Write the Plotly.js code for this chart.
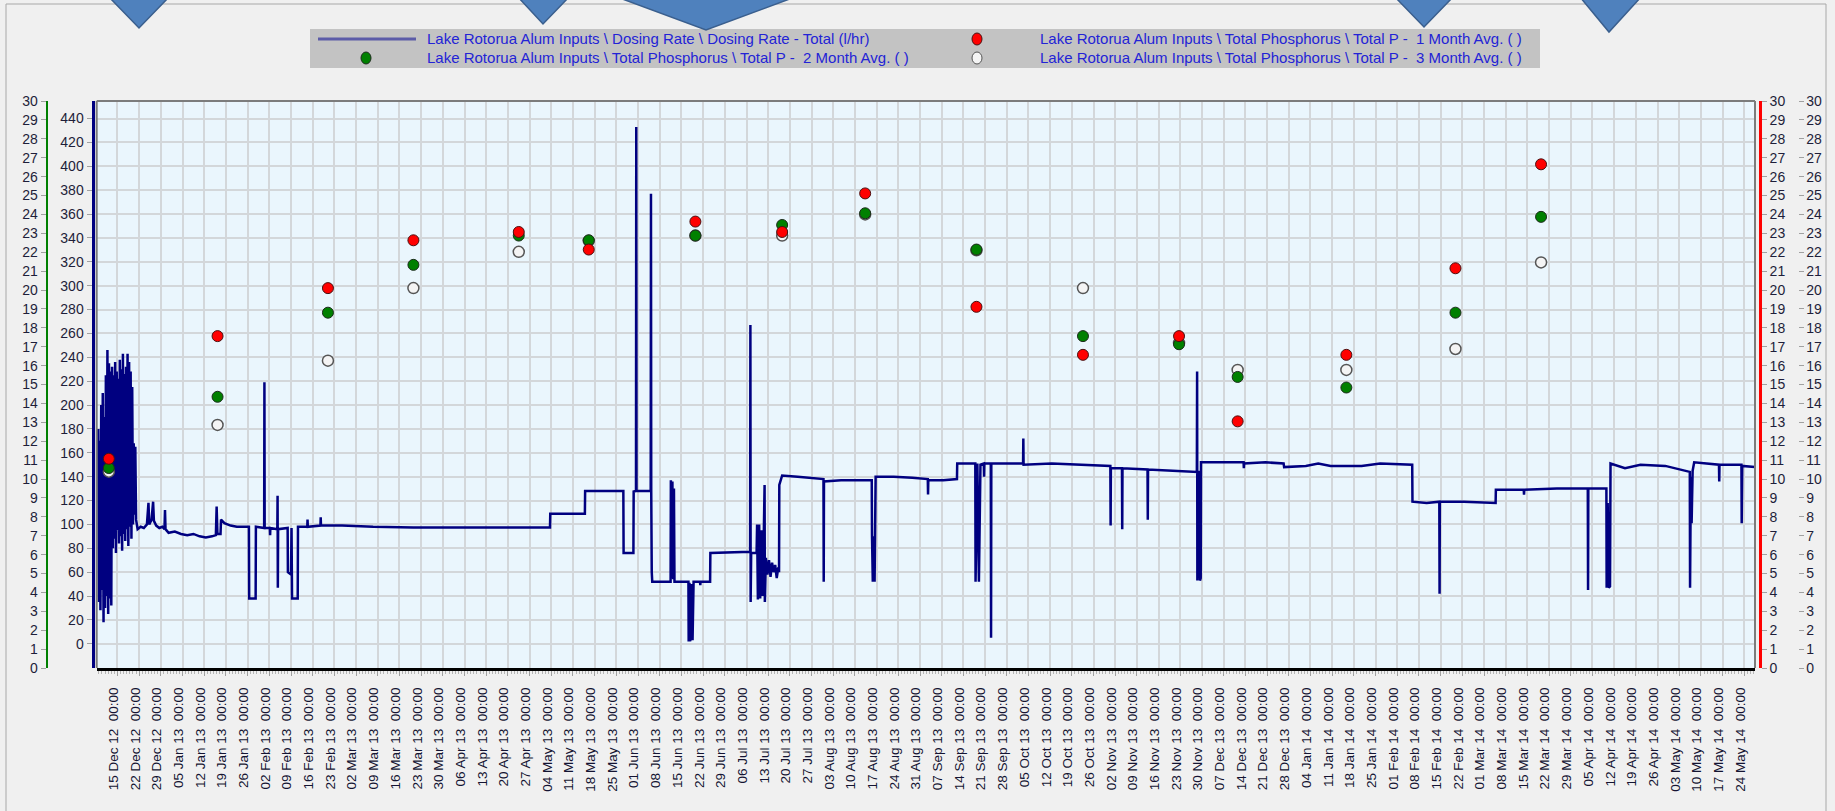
<!DOCTYPE html>
<html>
<head>
<meta charset="utf-8">
<script src="https://cdn.plot.ly/plotly-3.0.1.min.js"></script>
<style>html,body{margin:0;padding:0;background:#F0F0F0;}#chart{width:1835px;height:811px;}</style>
</head>
<body>
<div id="chart"></div>
<script>
// ---------------- DATA ----------------
// Dosing Rate - Total (l/hr) : [time, value]
const ratePoints = [
['2012-12-08 19:00',180],['2012-12-09 00:00',35],['2012-12-09 06:00',170],['2012-12-09 12:00',28],
['2012-12-09 18:00',200],['2012-12-10 00:00',45],['2012-12-10 06:00',210],['2012-12-10 12:00',18],
['2012-12-10 18:00',190],['2012-12-11 00:00',30],['2012-12-11 06:00',225],['2012-12-11 12:00',40],
['2012-12-11 18:00',246],['2012-12-12 00:00',25],['2012-12-12 06:00',235],['2012-12-12 12:00',38],
['2012-12-12 18:00',228],['2012-12-13 00:00',32],['2012-12-13 06:00',232],['2012-12-13 12:00',80],
['2012-12-13 18:00',225],['2012-12-14 00:00',88],['2012-12-14 06:00',236],['2012-12-14 12:00',76],
['2012-12-14 18:00',228],['2012-12-15 00:00',95],['2012-12-15 06:00',222],['2012-12-15 12:00',84],
['2012-12-15 18:00',238],['2012-12-16 00:00',90],['2012-12-16 06:00',230],['2012-12-16 12:00',78],
['2012-12-16 18:00',243],['2012-12-17 00:00',92],['2012-12-17 06:00',226],['2012-12-17 12:00',86],
['2012-12-17 18:00',232],['2012-12-18 00:00',96],['2012-12-18 06:00',243],['2012-12-18 12:00',82],
['2012-12-18 18:00',236],['2012-12-19 00:00',98],['2012-12-19 06:00',228],['2012-12-19 12:00',88],
['2012-12-19 18:00',215],['2012-12-20 00:00',100],['2012-12-20 06:00',168],['2012-12-20 12:00',108],
['2012-12-20 18:00',165],['2012-12-21 00:00',104],['2012-12-21 12:00',96],['2012-12-22 12:00',98],
['2012-12-23 12:00',97],['2012-12-24 12:00',100],['2012-12-25 00:00',118],['2012-12-25 06:00',100],
['2012-12-26 00:00',104],['2012-12-26 12:00',119],['2012-12-26 18:00',103],['2012-12-27 12:00',99],
['2012-12-28 12:00',97],['2012-12-29 12:00',98],['2012-12-30 04:00',96],['2012-12-30 08:00',112],
['2012-12-30 12:00',96],['2012-12-31 12:00',93],['2013-01-02 12:00',94],['2013-01-04 12:00',92],
['2013-01-06 12:00',91],['2013-01-08 12:00',92],['2013-01-10 12:00',90],['2013-01-12 12:00',89],
['2013-01-14 12:00',90],['2013-01-15 18:00',91],['2013-01-16 00:00',115],['2013-01-16 06:00',92],
['2013-01-17 06:00',92],['2013-01-17 10:00',104],['2013-01-18 12:00',101],['2013-01-20 12:00',99],
['2013-01-22 12:00',98],['2013-01-24 12:00',98],['2013-01-26 10:00',98],['2013-01-26 12:00',38],
['2013-01-28 14:00',38],['2013-01-28 16:00',98],['2013-01-30 12:00',97],['2013-01-31 08:00',97],
['2013-01-31 10:00',219],['2013-01-31 12:00',97],['2013-02-02 04:00',97],['2013-02-02 06:00',91],
['2013-02-02 08:00',97],['2013-02-04 14:00',96],['2013-02-04 16:00',124],['2013-02-04 18:00',47],
['2013-02-04 20:00',96],['2013-02-07 22:00',97],['2013-02-08 00:00',60],['2013-02-09 00:00',58],
['2013-02-09 04:00',97],['2013-02-09 08:00',38],['2013-02-11 04:00',38],['2013-02-11 06:00',98],
['2013-02-14 06:00',98],['2013-02-14 08:00',104],['2013-02-14 10:00',98],['2013-02-18 12:00',99],
['2013-02-18 14:00',106],['2013-02-18 16:00',99],['2013-02-25 12:00',99],['2013-03-07 12:00',98],
['2013-03-20 12:00',97.5],['2013-04-05 12:00',97.5],['2013-04-22 12:00',97],['2013-05-03 14:00',97.5],
['2013-05-03 16:00',109],['2013-05-14 20:00',109],['2013-05-14 22:00',128],['2013-05-27 06:00',128],
['2013-05-27 08:00',76],['2013-05-30 12:00',76],['2013-05-30 14:00',127.5],['2013-05-31 08:00',128],
['2013-05-31 10:00',433],['2013-05-31 12:00',128],['2013-06-05 02:00',128],['2013-06-05 04:00',377],
['2013-06-05 06:00',128],['2013-06-05 10:00',60],['2013-06-05 14:00',52],['2013-06-11 12:00',52],
['2013-06-11 14:00',137],['2013-06-11 20:00',55],['2013-06-12 02:00',136],['2013-06-12 08:00',54],
['2013-06-12 14:00',130],['2013-06-12 18:00',52],['2013-06-17 06:00',52],['2013-06-17 08:00',2],
['2013-06-17 14:00',51],['2013-06-17 20:00',2],['2013-06-18 06:00',50],['2013-06-18 14:00',3],
['2013-06-18 22:00',52],['2013-06-21 00:00',52],['2013-06-21 02:00',49],['2013-06-21 04:00',52],
['2013-06-24 06:00',52],['2013-06-24 08:00',76],['2013-07-07 04:00',77],['2013-07-07 06:00',267],
['2013-07-07 08:00',35],['2013-07-07 12:00',76],['2013-07-09 06:00',76],['2013-07-09 10:00',100],
['2013-07-09 16:00',37],['2013-07-10 02:00',100],['2013-07-10 10:00',38],['2013-07-10 20:00',95],
['2013-07-11 06:00',40],['2013-07-11 20:00',133],['2013-07-11 22:00',35],['2013-07-12 06:00',72],
['2013-07-12 18:00',58],['2013-07-13 06:00',70],['2013-07-13 18:00',56],['2013-07-14 06:00',68],
['2013-07-14 18:00',60],['2013-07-15 06:00',66],['2013-07-15 18:00',55],['2013-07-16 06:00',64],
['2013-07-16 12:00',60],['2013-07-16 14:00',133],['2013-07-17 12:00',141],['2013-07-22 12:00',140],
['2013-07-26 12:00',139],['2013-07-30 20:00',138],['2013-07-30 22:00',52],['2013-07-31 00:00',136],
['2013-08-05 12:00',137],['2013-08-10 12:00',137],['2013-08-15 10:00',137],['2013-08-15 12:00',90],
['2013-08-15 18:00',52],['2013-08-16 00:00',90],['2013-08-16 08:00',52],['2013-08-16 16:00',140],
['2013-08-22 12:00',140],['2013-08-28 12:00',139],['2013-09-02 12:00',138],['2013-09-02 14:00',125],
['2013-09-02 16:00',137],['2013-09-07 12:00',137],['2013-09-11 22:00',138],['2013-09-12 00:00',151],
['2013-09-17 20:00',151],['2013-09-17 22:00',52],['2013-09-18 12:00',151],['2013-09-19 00:00',52],
['2013-09-19 12:00',150],['2013-09-20 14:00',151],['2013-09-20 16:00',140],['2013-09-20 18:00',151],
['2013-09-22 20:00',151],['2013-09-22 22:00',5],['2013-09-23 00:00',151],['2013-10-03 06:00',151],
['2013-10-03 08:00',172],['2013-10-03 10:00',150],['2013-10-12 12:00',151],['2013-10-22 12:00',150],
['2013-10-31 10:00',149],['2013-10-31 12:00',99],['2013-10-31 14:00',147],['2013-11-04 04:00',147],
['2013-11-04 06:00',96],['2013-11-04 08:00',147],['2013-11-12 10:00',146],['2013-11-12 12:00',104],
['2013-11-12 14:00',146],['2013-11-20 12:00',145],['2013-11-28 08:00',144],['2013-11-28 10:00',228],
['2013-11-28 12:00',53],['2013-11-28 22:00',145],['2013-11-29 08:00',53],['2013-11-29 14:00',55],
['2013-11-29 16:00',152],['2013-12-06 12:00',152],['2013-12-13 10:00',152],['2013-12-13 12:00',147],
['2013-12-13 14:00',151],['2013-12-20 12:00',152],['2013-12-26 08:00',151],['2013-12-26 12:00',148],
['2014-01-02 12:00',149],['2014-01-06 12:00',151],['2014-01-10 12:00',149],['2014-01-20 12:00',149],
['2014-01-26 12:00',151],['2014-02-05 20:00',150],['2014-02-05 22:00',119],['2014-02-10 12:00',118],
['2014-02-14 14:00',119],['2014-02-14 16:00',42],['2014-02-14 18:00',119],['2014-02-22 12:00',119],
['2014-03-04 18:00',118],['2014-03-04 20:00',129],['2014-03-13 20:00',129],['2014-03-13 22:00',125],
['2014-03-14 00:00',129],['2014-03-24 12:00',130],['2014-04-03 12:00',130],['2014-04-03 14:00',45],
['2014-04-03 16:00',130],['2014-04-09 12:00',130],['2014-04-09 14:00',47],['2014-04-09 22:00',118],
['2014-04-10 06:00',47],['2014-04-10 16:00',48],['2014-04-10 20:00',151],['2014-04-15 12:00',147],
['2014-04-20 12:00',150],['2014-04-28 12:00',149],['2014-05-03 12:00',146],['2014-05-06 10:00',144],
['2014-05-06 12:00',47],['2014-05-06 18:00',140],['2014-05-07 00:00',101],['2014-05-07 08:00',145],
['2014-05-07 20:00',152],['2014-05-11 12:00',151],['2014-05-15 20:00',150],['2014-05-15 22:00',136],
['2014-05-16 00:00',150],['2014-05-20 12:00',150],['2014-05-23 02:00',150],['2014-05-23 04:00',101],
['2014-05-23 08:00',149],['2014-05-27 10:00',148]
];

// Total P monthly averages
const pDates = ['2012-12-12 05:00','2013-01-16 07:00','2013-02-20 22:00','2013-03-20 12:00',
  '2013-04-23 12:00','2013-05-16 02:00','2013-06-19 12:00','2013-07-17 12:00','2013-08-13 07:00',
  '2013-09-18 05:00','2013-10-22 14:00','2013-11-22 14:00','2013-12-11 12:00','2014-01-15 14:00',
  '2014-02-19 19:00','2014-03-19 10:00'];
const p1Month = [11.07,17.56,20.10,22.63,23.07,22.14,23.62,23.07,25.11,19.11,16.57,17.56,13.05,16.57,21.15,26.65];
const p2Month = [10.58,14.35,18.80,21.33,22.88,22.63,22.88,23.44,24.06,22.14,17.56,17.13,15.40,14.84,18.80,23.87];
const p3Month = [10.39,12.86,16.26,20.10,22.02,22.60,22.88,22.88,24.00,22.10,20.10,17.20,15.77,15.77,16.88,21.46];

const rateTicks = [0,20,40,60,80,100,120,140,160,180,200,220,240,260,280,300,320,340,360,380,400,420,440];
const pTicks = [0,1,2,3,4,5,6,7,8,9,10,11,12,13,14,15,16,17,18,19,20,21,22,23,24,25,26,27,28,29,30];

const seriesNames = [
  'Lake Rotorua Alum Inputs \\ Dosing Rate \\ Dosing Rate - Total (l/hr)',
  'Lake Rotorua Alum Inputs \\ Total Phosphorus \\ Total P -\u00a0 1 Month Avg. ( )',
  'Lake Rotorua Alum Inputs \\ Total Phosphorus \\ Total P -\u00a0 2 Month Avg. ( )',
  'Lake Rotorua Alum Inputs \\ Total Phosphorus \\ Total P -\u00a0 3 Month Avg. ( )'
];

// ---------------- LAYOUT HELPERS ----------------
const ML = 10, MR = 10, MT = 101, MB = 143, W = 1835, H = 811;
const PW = W - ML - MR, PH = H - MT - MB;
const PX = px => (px - ML) / PW;
const PY = py => (H - MB - py) / PH;

const tickFont = {family: 'Liberation Sans, Arial, sans-serif', size: 14, color: '#1e1e3a'};

// The three Total P series share the identical 0-30 scale; overlay layers stack y2 < y3 < y4,
// so 3-month sits lowest, then 2-month, then 1-month on top.
const traces = [
  {x: ratePoints.map(p => p[0]), y: ratePoints.map(p => p[1]), type: 'scatter', mode: 'lines',
   name: seriesNames[0], line: {color: '#000080', width: 2.5}, xaxis: 'x', yaxis: 'y'},
  {x: pDates, y: p3Month, type: 'scatter', mode: 'markers', name: seriesNames[3], yaxis: 'y2',
   marker: {size: 11, color: '#f4f4f4', line: {color: '#555555', width: 1.5}}},
  {x: pDates, y: p2Month, type: 'scatter', mode: 'markers', name: seriesNames[2], yaxis: 'y3',
   marker: {size: 11, color: '#008000', line: {color: '#1b2b1b', width: 1}}},
  {x: pDates, y: p1Month, type: 'scatter', mode: 'markers', name: seriesNames[1], yaxis: 'y4',
   marker: {size: 11, color: '#ff0000', line: {color: '#4a1010', width: 1}}}
];

const shapes = [];
const annotations = [];
const line = (x0, y0, x1, y1, color, width) => shapes.push({type: 'line', xref: 'paper', yref: 'paper',
  x0: PX(x0), y0: PY(y0), x1: PX(x1), y1: PY(y1), line: {color: color, width: width}, layer: 'above'});

// outer frame
line(6, 4, 1826, 4, '#a8a8a8', 1);
line(6, 4, 6, 811, '#a8a8a8', 1);
line(1826, 4, 1826, 811, '#a8a8a8', 1);
// plot frame (top, left, right)
line(96.7, 101, 1755, 101, '#7c7c7c', 2);
line(96.7, 101, 96.7, 668, '#7c7c7c', 2);
line(1755, 101, 1755, 668, '#7c7c7c', 2);

// legend box
shapes.push({type: 'rect', xref: 'paper', yref: 'paper', x0: PX(310), x1: PX(1540), y0: PY(68), y1: PY(29),
  fillcolor: '#c3c3c3', line: {width: 0}, layer: 'above'});
line(318, 39, 416, 39, '#5c5ca8', 3);
const dot = (cx, cy, fill, stroke) => shapes.push({type: 'circle', xref: 'paper', yref: 'paper',
  x0: PX(cx - 5), x1: PX(cx + 5), y0: PY(cy + 6), y1: PY(cy - 6), fillcolor: fill,
  line: {color: stroke, width: 1}, layer: 'above'});
dot(977, 39, '#ff0000', '#4a1010');
dot(366, 58, '#008000', '#1b2b1b');
dot(977, 58, '#f4f4f4', '#555555');
const legendText = [[425, 39, seriesNames[0]], [1038, 39, seriesNames[1]], [425, 58, seriesNames[2]], [1038, 58, seriesNames[3]]];
legendText.forEach(t => annotations.push({xref: 'paper', yref: 'paper', x: PX(t[0]), y: PY(t[1]),
  xanchor: 'left', yanchor: 'middle', showarrow: false, text: t[2],
  font: {family: 'Liberation Sans, Arial, sans-serif', size: 15, color: '#2323d6'}}));

// decorative down arrows at the top
const arrows = [[109, 169, 139, 28], [518, 569, 543, 24], [617, 795, 706, 30], [1395, 1453, 1424, 27], [1580, 1641, 1609, 32]];
arrows.forEach(a => {
  const path = 'M' + PX(a[0]) + ',' + PY(-3) + ' L' + PX(a[1]) + ',' + PY(-3) + ' L' + PX(a[2]) + ',' + PY(a[3]) + ' Z';
  shapes.push({type: 'path', xref: 'paper', yref: 'paper', path: path, fillcolor: '#4f81bd',
    line: {color: '#3a5f8e', width: 1.5}, layer: 'above'});
});

const yCommon = {range: [0, 30], tickvals: pTicks, overlaying: 'y', anchor: 'free', showgrid: false,
  zeroline: false, ticks: 'outside', ticklen: 5, tickcolor: '#a0a0a0', tickfont: tickFont};

const layout = {
  width: W, height: H,
  paper_bgcolor: '#F0F0F0', plot_bgcolor: '#EAF6FD',
  showlegend: false,
  margin: {l: ML, r: MR, t: MT, b: MB, pad: 0},
  font: {family: 'Liberation Sans, Arial, sans-serif'},
  xaxis: {type: 'date', domain: [PX(96.7), PX(1755)], range: ['2012-12-08 07:00', '2014-05-27 11:00'],
    tick0: '2012-12-15', dtick: 604800000, tickformat: '%d %b %y\u00a0\u00a0%H:%M', tickangle: -90,
    tickfont: {family: 'Liberation Sans, Arial, sans-serif', size: 13.5, color: '#141432'},
    ticks: 'outside', ticklen: 5, tickcolor: '#a0a0a0', ticklabelstandoff: 6, ticklabelshift: -4,
    showgrid: true, gridcolor: '#d3d7da', gridwidth: 2,
    showline: true, linecolor: '#000000', linewidth: 3, zeroline: false, anchor: 'y',
    minor: {ticks: 'outside', ticklen: 3, tickcolor: '#b4b4b4', dtick: 86400000, tick0: '2012-12-15', showgrid: false}},
  yaxis: {range: [-20.3, 454.7], tickvals: rateTicks, anchor: 'free', position: PX(92.5), side: 'left',
    showline: true, linecolor: '#000080', linewidth: 3, showgrid: true, gridcolor: '#d3d7da', gridwidth: 2,
    zeroline: false, ticks: 'outside', ticklen: 5, tickcolor: '#a0a0a0', tickfont: tickFont},
  // green left axis (0-30)
  yaxis2: Object.assign({}, yCommon, {position: PX(46.7), side: 'left', showline: true, linecolor: '#008000', linewidth: 2.5}),
  // red right axis (0-30)
  yaxis3: Object.assign({}, yCommon, {position: PX(1760.3), side: 'right', showline: true, linecolor: '#ff0000', linewidth: 2.5}),
  // outer right axis (0-30)
  yaxis4: Object.assign({}, yCommon, {position: PX(1797.5), side: 'right', showline: false}),
  shapes: shapes,
  annotations: annotations
};

Plotly.newPlot('chart', traces, layout, {displayModeBar: false, staticPlot: true});
</script>
</body>
</html>
